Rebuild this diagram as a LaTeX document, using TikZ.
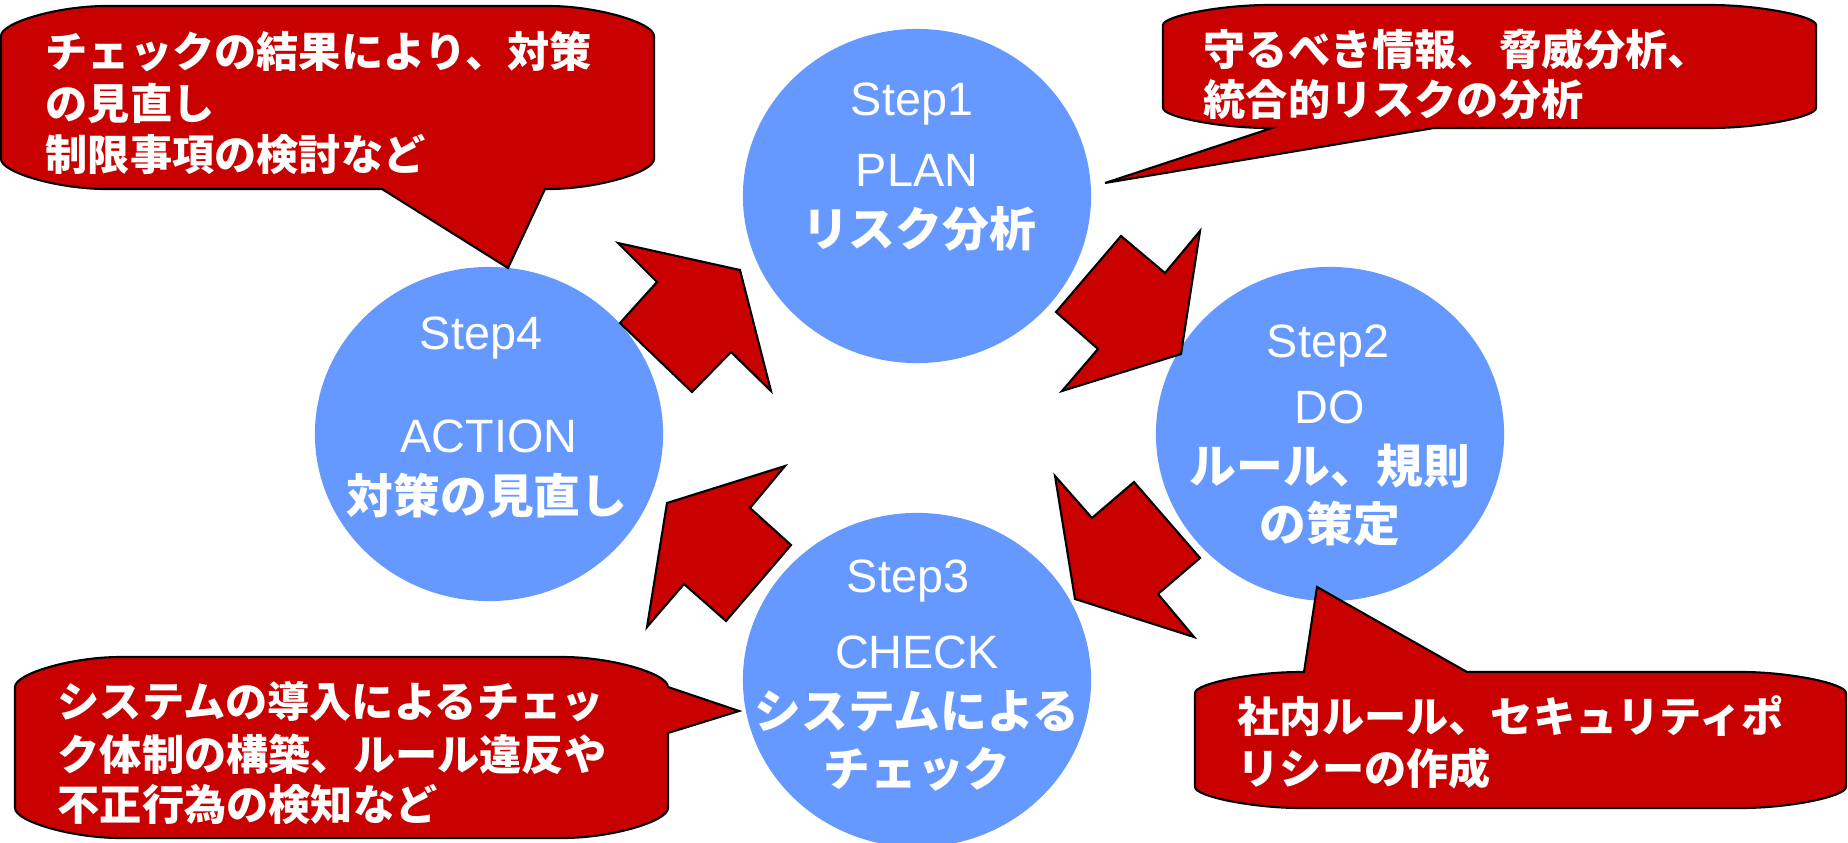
\documentclass[tikz,border=0pt]{standalone}
\usepackage{fontspec}
\setmainfont{Liberation Sans}
\newfontfamily\jpfont{Noto Sans CJK JP}
\usetikzlibrary{shapes.geometric}
\definecolor{stepblue}{RGB}{102,153,255}
\definecolor{notered}{RGB}{200,0,0}

\begin{document}
\begin{tikzpicture}[x=0.01cm,y=-0.01cm,
        stepcircle/.style={ellipse,fill=stepblue,minimum width=3.48cm,minimum height=3.34cm,inner sep=0pt},
        entext/.style={text=white,inner sep=0pt,anchor=base,font=\fontsize{13.3}{16}\selectfont},
        jptext/.style={text=white,inner sep=0pt,anchor=base,font=\jpfont\bfseries\fontsize{13.3}{16}\selectfont},
        notetext/.style={text=white,inner sep=0pt,anchor=base west,font=\jpfont\bfseries\fontsize{12}{14}\selectfont},
        cyclearrow/.style={fill=notered,draw=black,line width=0.6pt,line join=miter},
        balloon/.style={fill=notered,draw=black,line width=0.6pt,line join=miter}]
        \useasboundingbox (0,0) rectangle (1848,842);

        \coordinate (c1) at (917,196);
        \coordinate (c2) at (1330,434);
        \coordinate (c3) at (917,680);
        \coordinate (c4) at (489,434);

        \node[stepcircle] (plan) at (c1){};
        \node[stepcircle] (do) at (c2){};
        \node[stepcircle] (check) at (c3){};
        \node[stepcircle] (action) at (c4){};

        % arrows of the cycle
        \draw[cyclearrow] (618,243) -- (740,270) -- (771,391) -- (731,352) -- (692,392) -- (620,323) -- (657,282) -- cycle;
        \draw[cyclearrow] (1121,236) -- (1165,273) -- (1200,231) -- (1181,354) -- (1062,391) -- (1098,349) -- (1056,312) -- cycle;
        \draw[cyclearrow] (1055,476) -- (1092,518) -- (1134,482) -- (1200,558) -- (1158,594) -- (1194,637) -- (1075,599) -- cycle;
        \draw[cyclearrow] (785,466) -- (750,508) -- (791,545) -- (726,621) -- (684,584) -- (647,627) -- (667,503) -- cycle;

        % callouts
        \draw[balloon] (1,36) .. controls (1,22.5) and (58,6) .. (106,6) -- (549,6)
            .. controls (596,6) and (654,22.5) .. (654,36) -- (654,159)
            .. controls (654,172.5) and (596,189) .. (549,189) -- (545,189) -- (508,268) -- (382,189) -- (106,189)
            .. controls (58,189) and (1,172.5) .. (1,159) -- cycle;
        \draw[balloon] (1163,25) .. controls (1163,16) and (1221,5) .. (1268,5) -- (1711,5)
            .. controls (1758,5) and (1816,16) .. (1816,25) -- (1816,108)
            .. controls (1816,117) and (1758,128) .. (1711,128) -- (1434,128) -- (1105,183) -- (1272,128) -- (1268,128)
            .. controls (1221,128) and (1163,117) .. (1163,108) -- cycle;
        \draw[balloon] (15,687) .. controls (15,673.5) and (72,657) .. (120,657) -- (563,657)
            .. controls (611,657) and (668,673.5) .. (668,687) -- (739,711) -- (668,733) -- (668,808)
            .. controls (668,821.5) and (611,838) .. (563,838) -- (120,838)
            .. controls (72,838) and (15,821.5) .. (15,808) -- cycle;
        \draw[balloon] (1195,693) .. controls (1195,683.5) and (1253,672) .. (1300,672) -- (1304,672) -- (1317,587) -- (1467,672) -- (1742,672)
            .. controls (1789,672) and (1846,683.5) .. (1846,693) -- (1846,787)
            .. controls (1846,796.5) and (1789,808) .. (1742,808) -- (1300,808)
            .. controls (1253,808) and (1195,796.5) .. (1195,787) -- cycle;

        % texts of the steps
        \node[entext] (plan1) at (912,115) {Step1};
        \node[entext] (plan2) at (917,186) {PLAN};
        \node[jptext] (plan3) at (919,246) {リスク分析};
        \node[entext] (do1) at (1328,357) {Step2};
        \node[entext] (do2) at (1330,423) {DO};
        \node[jptext] (do3) at (1330,483) {ルール、規則};
        \node[jptext] (do4) at (1330,541) {の策定};
        \node[entext] (check1) at (908,592) {Step3};
        \node[entext] (check2) at (917,668) {CHECK};
        \node[jptext] (check3) at (917,728) {システムによる};
        \node[jptext] (check4) at (917,786) {チェック};
        \node[entext] (action1) at (481,349) {Step4};
        \node[entext] (action2) at (489,452) {ACTION};
        \node[jptext] (action3) at (487,513) {対策の見直し};

        % texts of the callouts
        \node[notetext] (note1a) at (45,67) {チェックの結果により、対策};
        \node[notetext] (note1b) at (45,119) {の見直し};
        \node[notetext] (note1c) at (45,170) {制限事項の検討など};
        \node[notetext] (note2a) at (1203,65) {守るべき情報、脅威分析、};
        \node[notetext] (note2b) at (1203,115) {統合的リスクの分析};
        \node[notetext] (note3a) at (57,717) {システムの導入によるチェッ};
        \node[notetext] (note3b) at (57,770) {ク体制の構築、ルール違反や};
        \node[notetext] (note3c) at (57,820) {不正行為の検知など};
        \node[notetext] (note4a) at (1237,732) {社内ルール、セキュリティポ};
        \node[notetext] (note4b) at (1237,784) {リシーの作成};
    \end{tikzpicture}
\end{document}
